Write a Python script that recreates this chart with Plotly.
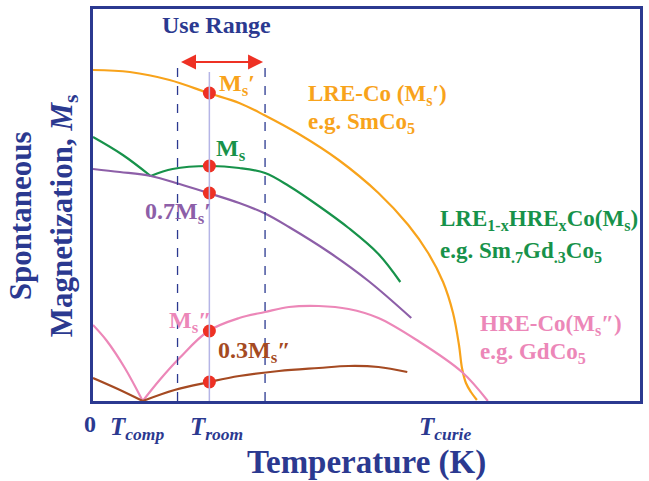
import plotly.graph_objects as go

# ---- data (T and M in arbitrary units) ----
orange_T = [0, 37, 77, 116, 147, 172, 207, 247, 287, 317, 337, 352, 362, 368, 371, 375, 380, 386]
orange_M = [331, 329, 321, 308, 298, 286, 267, 241, 208, 176, 148, 119, 88, 56, 33, 18, 9, 1]

green_left_T = [0, 30, 58]
green_left_M = [264, 246, 225]
green_right_T = [58, 80, 117, 147, 173, 197, 227, 257, 287, 309]
green_right_M = [225, 232, 235, 233, 228, 215, 195, 173, 147, 119]

purple_T = [0, 27, 58, 87, 116, 147, 172, 197, 237, 277, 320]
purple_M = [232, 229, 225, 217, 208, 198, 188, 174, 149, 120, 83]

pink_left_T = [0, 14, 32, 50]
pink_left_M = [76, 60, 33, 0]
pink_right_T = [50, 67, 87, 116, 147, 173, 197, 227, 257, 287, 327, 371, 397]
pink_right_M = [0, 21, 43, 70, 83, 89, 94, 95, 92, 83, 60, 29, 0]

brown_left_T = [0, 25, 50]
brown_left_M = [23, 12, 0]
brown_right_T = [50, 82, 117, 147, 187, 227, 257, 287, 316]
brown_right_M = [0, 11, 19, 25, 30, 33, 35, 34, 29]

t_room = 117
use_range = [85, 173]
dot_M = [308, 235, 208, 70, 19]

NAVY = "#2b3990"
ORANGE = "#f8a31b"
GREEN = "#17924a"
PURPLE = "#8d5fa8"
PINK = "#ec87b8"
BROWN = "#a54a22"
RED = "#ee3124"
FONT = "Liberation Serif"

fig = go.Figure()

def line(x, y, c):
    fig.add_trace(go.Scatter(x=x, y=y, mode="lines", line=dict(color=c, width=2.2, shape="spline", smoothing=1.0),
                             hoverinfo="skip", showlegend=False))

# reference lines
fig.add_shape(type="line", x0=t_room, x1=t_room, y0=0, y1=329, line=dict(color="#b5b5e6", width=1.5))
for xv in use_range:
    fig.add_shape(type="line", x0=xv, x1=xv, y0=0, y1=341, line=dict(color=NAVY, width=1.3, dash="dash"))

line(orange_T, orange_M, ORANGE)
line(green_left_T, green_left_M, GREEN)
line(green_right_T, green_right_M, GREEN)
line(purple_T, purple_M, PURPLE)
line(pink_left_T, pink_left_M, PINK)
line(pink_right_T, pink_right_M, PINK)
line(brown_left_T, brown_left_M, BROWN)
line(brown_right_T, brown_right_M, BROWN)

fig.add_trace(go.Scatter(x=[t_room] * len(dot_M), y=dot_M, mode="markers",
                         marker=dict(color=RED, size=13), hoverinfo="skip", showlegend=False))

ann = []
def txt(x, y, s, c, size, xanchor="left", yanchor="middle", xref="x", yref="y", angle=0, align="left"):
    ann.append(dict(x=x, y=y, xref=xref, yref=yref, text=s, showarrow=False, xanchor=xanchor, yanchor=yanchor,
                    font=dict(family=FONT, size=size, color=c), textangle=angle, align=align))

txt(124, 376, "<b>Use Range</b>", NAVY, 24, xanchor="center")
txt(214, 306, "<b>LRE-Co (M<sub>s</sub>′)</b>", ORANGE, 23)
txt(214, 278, "<b>e.g. SmCo<sub>5</sub></b>", ORANGE, 23)
txt(347, 181, "<b>LRE<sub>1-x</sub>HRE<sub>x</sub>Co(M<sub>s</sub>)</b>", GREEN, 23)
txt(347, 149, "<b>e.g. Sm<sub>.7</sub>Gd<sub>.3</sub>Co<sub>5</sub></b>", GREEN, 23)
txt(387, 76, "<b>HRE-Co(M<sub>s</sub>″)</b>", PINK, 23)
txt(387, 48, "<b>e.g. GdCo<sub>5</sub></b>", PINK, 23)
txt(125, 316, "<b>M<sub>s</sub>′</b>", ORANGE, 24)
txt(122, 251, "<b>M<sub>s</sub></b>", GREEN, 24)
txt(50, 188, "<b>0.7M<sub>s</sub>′</b>", PURPLE, 24)
txt(121, 79, "<b>M<sub>s</sub>″</b>", PINK, 24, xanchor="right")
txt(124, 49, "<b>0.3M<sub>s</sub>″</b>", BROWN, 24)

txt(-0.0055, -0.0587, "<b>0</b>", NAVY, 24, xanchor="center", xref="paper", yref="paper")
txt(0.028, -0.069, "<b><i>T</i><sub><i>comp</i></sub></b>", NAVY, 25, xref="paper", yref="paper")
txt(0.173, -0.069, "<b><i>T</i><sub><i>room</i></sub></b>", NAVY, 25, xref="paper", yref="paper")
txt(0.593, -0.069, "<b><i>T</i><sub><i>curie</i></sub></b>", NAVY, 25, xref="paper", yref="paper")
txt(0.5, -0.156, "<b>Temperature (K)</b>", NAVY, 33, xanchor="center", xref="paper", yref="paper")
txt(-0.0909, 0.472, "<b>Spontaneous<br>Magnetization, <i>M</i><sub>s</sub></b>", NAVY, 31,
    xanchor="center", xref="paper", yref="paper", angle=-90, align="center")

ann.append(dict(x=use_range[1] - 2, y=339, ax=use_range[0] + 2, ay=339, xref="x", yref="y", axref="x", ayref="y",
                text="", showarrow=True, arrowhead=2, arrowside="end+start", arrowsize=1.5, arrowwidth=2,
                arrowcolor=RED))

fig.update_layout(
    width=649, height=481,
    margin=dict(l=93, r=6, t=9, b=80),
    plot_bgcolor="white", paper_bgcolor="white",
    annotations=ann,
    xaxis=dict(range=[0, 550], showgrid=False, zeroline=False, showticklabels=False, ticks="",
               showline=True, mirror=True, linecolor=NAVY, linewidth=3),
    yaxis=dict(range=[0, 392], showgrid=False, zeroline=False, showticklabels=False, ticks="",
               showline=True, mirror=True, linecolor=NAVY, linewidth=3),
)

fig.write_html("out.html")
